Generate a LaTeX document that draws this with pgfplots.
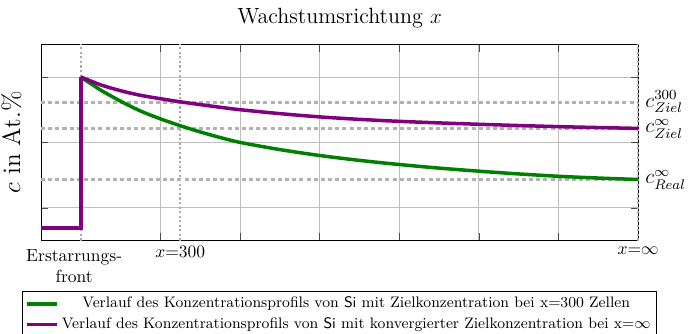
\documentclass[border=0pt]{standalone}
\usepackage{pgfplots}
\pgfplotsset{compat=1.18}
\definecolor{mygreen}{RGB}{0,128,0}
\definecolor{mypurple}{RGB}{128,0,128}
\begin{document}
\begin{tikzpicture}
\begin{axis}[
  name=ax,
  scale only axis, width=341.1pt, height=112.1pt,
  xmin=0.5, xmax=8, ymin=0.5, ymax=3.5,
  xtick={2,3,...,7}, xticklabels={},
  ytick={1,2,3}, yticklabels={},
  grid=major, grid style={black!25, line width=0.5pt},
  tick style={black!70},
  axis line style={line width=0.5pt},
  extra x ticks={1,2.25,8},
  extra x tick labels={{\begin{tabular}{@{}c@{}}Erstarrungs-\\front\end{tabular}\hspace*{7.5pt}}, $x{=}300$, $x{=}\infty$},
  extra x tick style={grid style={black!33, dash pattern=on 1.2pt off 1.4pt, line width=1.1pt}, major tick length=0pt},
  extra y ticks={1.435,2.215,2.61}, extra y tick labels={},
  extra y tick style={grid style={black!30, dash pattern=on 2.3pt off 1.8pt, line width=1.4pt}, major tick length=0pt},
  title={\fontsize{12.6}{15}\selectfont Wachstumsrichtung $x$},
  ylabel={\Large $c$ in At.\%},
  ylabel style={at={(axis description cs:-0.022,0.5)}, anchor=south},
  legend style={at={(0.5,-0.255)}, anchor=north, legend cell align=center, draw=black, font=\fontsize{8.7}{10.6}\selectfont, inner sep=1.5pt, row sep=0pt},
  legend image post style={line width=2pt},
  clip=false,
]
\addplot[mygreen, line width=2pt, smooth] coordinates {
 (1,3.0) (1.25,2.80) (1.5,2.63) (1.75,2.48) (2,2.36) (2.25,2.255) (2.5,2.16) (2.75,2.075) (3,2.0) (3.5,1.89) (4,1.80) (4.5,1.725) (5,1.662) (5.5,1.607) (6,1.56) (6.5,1.518) (7,1.482) (7.5,1.455) (8,1.433)};
\addlegendentry{Verlauf des Konzentrationsprofils von \textsf{Si} mit Zielkonzentration bei x=300 Zellen}
\addplot[mypurple, line width=2pt, forget plot] coordinates {(0.5,0.69) (1,0.69) (1,3.0)};
\addplot[mypurple, line width=2pt, smooth] coordinates {
 (1,3.0) (1.25,2.88) (1.5,2.79) (1.75,2.72) (2,2.668) (2.25,2.62) (2.5,2.578) (2.75,2.537) (3,2.50) (3.5,2.44) (4,2.39) (4.5,2.352) (5,2.322) (5.5,2.298) (6,2.277) (6.5,2.258) (7,2.241) (7.5,2.227) (8,2.214)};
\addlegendentry{Verlauf des Konzentrationsprofils von \textsf{Si} mit konvergierter Zielkonzentration bei x=$\infty$}
\node[anchor=base west, xshift=4pt, yshift=-2.6pt, inner sep=0pt] at (axis cs:8,2.61) {\large $c^{300}_{Ziel}$};
\node[anchor=base west, xshift=4pt, yshift=-2.6pt, inner sep=0pt] at (axis cs:8,2.215) {\large $c^{\infty}_{Ziel}$};
\node[anchor=base west, xshift=4pt, yshift=-2.6pt, inner sep=0pt] at (axis cs:8,1.435) {\large $c^{\infty}_{Real}$};
\end{axis}
\pgfresetboundingbox
\path ([xshift=-23.4pt,yshift=-53.4pt]ax.south west) rectangle ([xshift=29.1pt,yshift=25.3pt]ax.north east);
\end{tikzpicture}
\end{document}
